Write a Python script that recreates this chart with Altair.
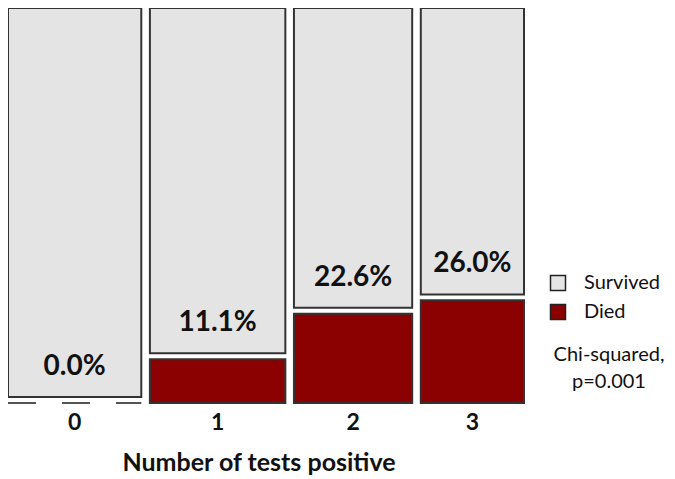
import altair as alt
import pandas as pd

# ---- data ----
categories = ["0", "1", "2", "3"]
patients = [62, 63, 55, 48]          # relative bar widths (mosaic)
died_pct = [0.0, 11.1, 22.6, 26.0]   # percent died per group
pct_labels = ["0.0%", "11.1%", "22.6%", "26.0%"]
statuses = ["Survived", "Died"]
colors = ["#e4e4e4", "#8b0000"]

GAP = 4.0        # gap between columns (count units)
SEG_GAP = 1.5    # gap between stacked segments (percent units)
FONT = "Lato"

rows, centers, lefts, rights = [], [], [], []
pos = 0.0
for i, c in enumerate(categories):
    x0, x1 = pos, pos + patients[i]
    lefts.append(x0); rights.append(x1); centers.append((x0 + x1) / 2)
    if died_pct[i] > 0:
        rows.append(dict(cat=c, status="Died", x0=x0, x1=x1, y0=0, y1=died_pct[i]))
    rows.append(dict(cat=c, status="Survived", x0=x0, x1=x1,
                     y0=died_pct[i] + SEG_GAP, y1=100))
    pos = x1 + GAP
total = pos - GAP

rects_df = pd.DataFrame(rows)
lab_df = pd.DataFrame(dict(cat=categories, xc=centers, pct=died_pct, lab=pct_labels,
                           x0=lefts, x1=rights))

xs = alt.Scale(domain=[0, total], range=[0, 516], nice=False, zero=False)
ys = alt.Scale(domain=[0, 100], range=[395, 0], nice=False, zero=False)

rects = alt.Chart(rects_df).mark_rect(stroke="#333333", strokeWidth=2).encode(
    x=alt.X("x0:Q", scale=xs, axis=None),
    x2="x1:Q",
    y=alt.Y("y0:Q", scale=ys, axis=None),
    y2="y1:Q",
    color=alt.Color("status:N",
                    scale=alt.Scale(domain=statuses, range=colors),
                    legend=alt.Legend(title=None, orient="none", legendX=540, legendY=265,
                                      symbolType="square", symbolSize=225,
                                      symbolStrokeColor="#222222", symbolStrokeWidth=1.5,
                                      labelFont=FONT, labelFontSize=20, labelColor="#111111",
                                      rowPadding=7, labelOffset=16)),
)

zero_line = alt.Chart(lab_df[lab_df["pct"] == 0]).mark_rule(
    stroke="#555555", strokeWidth=2, strokeDash=[28, 26]).encode(
    x=alt.X("x0:Q", scale=xs), x2="x1:Q", y=alt.Y("pct:Q", scale=ys))

pct_text = alt.Chart(lab_df).mark_text(
    font=FONT, fontSize=28, fontWeight="bold", color="#111111",
    baseline="middle", dy=-36).encode(
    x=alt.X("xc:Q", scale=xs), y=alt.Y("pct:Q", scale=ys), text="lab:N")

tick_text = alt.Chart(lab_df).mark_text(
    font=FONT, fontSize=23, fontWeight="bold", color="#111111", baseline="middle").encode(
    x=alt.X("xc:Q", scale=xs), y=alt.value(415), text="cat:N")

notes = pd.DataFrame(dict(t=["Number of tests positive", "Chi-squared,", "p=0.001"],
                          kind=["title", "n1", "n2"]))
title_text = alt.Chart(notes[notes.kind == "title"]).mark_text(
    font=FONT, fontSize=25, fontWeight="bold", color="#111111", baseline="middle").encode(
    x=alt.value(251), y=alt.value(455), text="t:N")
n1 = alt.Chart(notes[notes.kind == "n1"]).mark_text(
    font=FONT, fontSize=20, color="#111111", baseline="middle").encode(
    x=alt.value(601), y=alt.value(347), text="t:N")
n2 = alt.Chart(notes[notes.kind == "n2"]).mark_text(
    font=FONT, fontSize=20, color="#111111", baseline="middle").encode(
    x=alt.value(601), y=alt.value(374), text="t:N")

chart = alt.layer(rects, zero_line, pct_text, tick_text, title_text, n1, n2).properties(
    width=659, height=471, padding=0, autosize=alt.AutoSizeParams(type="none"),
    background="white",
).configure_view(stroke=None)

chart.save("out.html", embed_options={"renderer": "svg", "actions": False})
